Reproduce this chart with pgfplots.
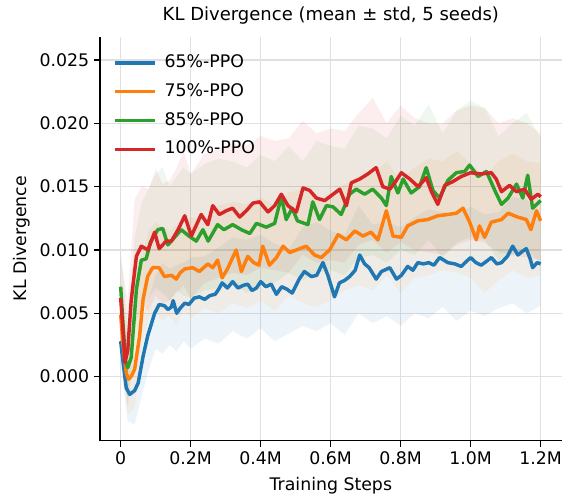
\documentclass[border=0pt]{standalone}
\usepackage{fontspec}
\setmainfont{DejaVu Sans}
\usepackage{pgfplots}
\usepackage{pgfplotstable}
\pgfplotsset{compat=1.18}
\usepgfplotslibrary{fillbetween}
\usetikzlibrary{calc}

\definecolor{tabblue}{HTML}{1F77B4}
\definecolor{taborange}{HTML}{FF7F0E}
\definecolor{tabgreen}{HTML}{2CA02C}
\definecolor{tabred}{HTML}{D62728}

% smoothed mean curves (x in millions of steps)
\pgfplotstableread{
x y
0.000 0.0028
0.007 0.0011
0.016 -0.0009
0.026 -0.0014
0.040 -0.0011
0.050 -0.0005
0.064 0.0016
0.077 0.0032
0.097 0.0050
0.110 0.0057
0.125 0.0056
0.135 0.0053
0.145 0.0055
0.150 0.0060
0.160 0.0050
0.170 0.0054
0.183 0.0058
0.195 0.0057
0.210 0.0062
0.225 0.0063
0.240 0.0061
0.255 0.0064
0.270 0.0065
0.280 0.0069
0.290 0.0074
0.305 0.0070
0.320 0.0075
0.335 0.0070
0.350 0.0072
0.363 0.0073
0.375 0.0068
0.388 0.0070
0.400 0.0075
0.415 0.0071
0.430 0.0073
0.445 0.0065
0.460 0.0071
0.475 0.0069
0.490 0.0066
0.510 0.0077
0.525 0.0083
0.545 0.0079
0.560 0.0080
0.578 0.0090
0.592 0.0080
0.611 0.0063
0.625 0.0074
0.640 0.0076
0.654 0.0079
0.670 0.0084
0.683 0.0096
0.697 0.0089
0.710 0.0086
0.730 0.0077
0.745 0.0083
0.769 0.0086
0.788 0.0077
0.802 0.0080
0.820 0.0087
0.835 0.0084
0.849 0.0090
0.865 0.0089
0.880 0.0090
0.895 0.0088
0.911 0.0094
0.935 0.0090
0.955 0.0089
0.973 0.0087
0.988 0.0091
1.000 0.0094
1.015 0.0090
1.030 0.0088
1.045 0.0091
1.059 0.0094
1.075 0.0089
1.088 0.0090
1.105 0.0095
1.120 0.0103
1.135 0.0096
1.148 0.0099
1.159 0.0101
1.170 0.0093
1.177 0.0086
1.190 0.0090
1.200 0.0089
}\blue

\pgfplotstableread{
x y
0.000 0.0049
0.007 0.0025
0.016 0.0003
0.022 -0.0002
0.030 0.0000
0.040 0.0006
0.054 0.0032
0.064 0.0061
0.077 0.0079
0.091 0.0086
0.110 0.0086
0.125 0.0079
0.145 0.0080
0.159 0.0077
0.170 0.0082
0.183 0.0085
0.206 0.0086
0.225 0.0083
0.249 0.0089
0.263 0.0086
0.277 0.0092
0.290 0.0078
0.305 0.0085
0.330 0.0100
0.345 0.0083
0.363 0.0095
0.380 0.0090
0.395 0.0088
0.406 0.0103
0.425 0.0088
0.445 0.0094
0.464 0.0103
0.483 0.0098
0.502 0.0100
0.530 0.0103
0.554 0.0096
0.573 0.0094
0.597 0.0100
0.621 0.0112
0.645 0.0108
0.669 0.0115
0.692 0.0111
0.715 0.0114
0.735 0.0108
0.759 0.0131
0.778 0.0111
0.802 0.0110
0.820 0.0119
0.849 0.0123
0.877 0.0124
0.906 0.0127
0.935 0.0128
0.959 0.0129
0.978 0.0133
0.997 0.0122
1.016 0.0108
1.025 0.0119
1.040 0.0110
1.059 0.0122
1.088 0.0124
1.107 0.0129
1.134 0.0126
1.159 0.0124
1.172 0.0116
1.188 0.0131
1.200 0.0123
}\orange

\pgfplotstableread{
x y
0.000 0.0071
0.007 0.0040
0.014 0.0012
0.020 0.0007
0.030 0.0015
0.045 0.0069
0.059 0.0092
0.073 0.0093
0.085 0.0106
0.106 0.0116
0.120 0.0117
0.135 0.0104
0.154 0.0110
0.173 0.0116
0.195 0.0111
0.216 0.0107
0.235 0.0116
0.250 0.0107
0.277 0.0120
0.295 0.0116
0.320 0.0120
0.345 0.0116
0.369 0.0113
0.388 0.0121
0.416 0.0118
0.440 0.0121
0.459 0.0142
0.473 0.0124
0.490 0.0133
0.505 0.0123
0.535 0.0120
0.549 0.0138
0.568 0.0124
0.588 0.0135
0.607 0.0134
0.630 0.0128
0.654 0.0144
0.673 0.0148
0.697 0.0144
0.720 0.0148
0.745 0.0141
0.759 0.0135
0.773 0.0158
0.792 0.0145
0.807 0.0156
0.830 0.0145
0.854 0.0150
0.873 0.0165
0.892 0.0147
0.911 0.0141
0.935 0.0155
0.959 0.0161
0.983 0.0162
0.997 0.0167
1.021 0.0158
1.045 0.0162
1.069 0.0147
1.088 0.0136
1.107 0.0141
1.131 0.0152
1.149 0.0141
1.163 0.0159
1.177 0.0133
1.200 0.0139
}\green

\pgfplotstableread{
x y
0.000 0.0062
0.007 0.0035
0.012 0.0011
0.020 0.0020
0.030 0.0060
0.045 0.0095
0.059 0.0103
0.078 0.0100
0.097 0.0114
0.110 0.0101
0.130 0.0107
0.145 0.0107
0.164 0.0116
0.183 0.0127
0.202 0.0111
0.230 0.0128
0.249 0.0120
0.263 0.0135
0.282 0.0128
0.302 0.0131
0.320 0.0133
0.340 0.0126
0.359 0.0131
0.378 0.0137
0.397 0.0138
0.421 0.0130
0.440 0.0135
0.459 0.0144
0.478 0.0135
0.502 0.0130
0.521 0.0149
0.540 0.0147
0.559 0.0141
0.583 0.0139
0.607 0.0144
0.626 0.0148
0.645 0.0135
0.659 0.0153
0.683 0.0156
0.706 0.0160
0.730 0.0165
0.749 0.0150
0.769 0.0148
0.783 0.0153
0.802 0.0161
0.826 0.0156
0.850 0.0150
0.873 0.0157
0.888 0.0146
0.906 0.0136
0.926 0.0151
0.949 0.0154
0.973 0.0158
1.000 0.0161
1.030 0.0160
1.059 0.0161
1.073 0.0156
1.088 0.0146
1.111 0.0151
1.131 0.0146
1.154 0.0148
1.173 0.0140
1.192 0.0144
1.200 0.0142
}\red

% std bands: lower / upper edge
\pgfplotstableread{
x lo hi
0.00 0.0010 0.0046
0.02 -0.0035 0.0012
0.04 -0.0038 0.0018
0.06 -0.0015 0.0045
0.08 0.0005 0.0062
0.10 0.0022 0.0080
0.12 0.0018 0.0090
0.14 0.0025 0.0085
0.16 0.0020 0.0088
0.18 0.0028 0.0090
0.20 0.0022 0.0094
0.24 0.0030 0.0095
0.28 0.0026 0.0102
0.32 0.0036 0.0110
0.36 0.0030 0.0108
0.40 0.0038 0.0112
0.44 0.0028 0.0105
0.48 0.0034 0.0100
0.52 0.0040 0.0118
0.56 0.0036 0.0122
0.60 0.0042 0.0115
0.64 0.0033 0.0112
0.68 0.0050 0.0135
0.72 0.0042 0.0120
0.76 0.0048 0.0122
0.80 0.0040 0.0118
0.84 0.0050 0.0126
0.88 0.0046 0.0132
0.92 0.0055 0.0130
0.96 0.0044 0.0128
1.00 0.0052 0.0134
1.04 0.0048 0.0128
1.08 0.0054 0.0130
1.12 0.0058 0.0142
1.16 0.0050 0.0140
1.20 0.0056 0.0124
}\blueband

\pgfplotstableread{
x lo hi
0.00 0.0020 0.0078
0.02 -0.0030 0.0030
0.04 -0.0025 0.0040
0.06 0.0025 0.0095
0.08 0.0045 0.0115
0.10 0.0050 0.0122
0.12 0.0044 0.0118
0.14 0.0048 0.0115
0.16 0.0040 0.0120
0.18 0.0052 0.0118
0.20 0.0046 0.0126
0.24 0.0054 0.0124
0.28 0.0050 0.0135
0.32 0.0058 0.0138
0.36 0.0054 0.0136
0.40 0.0060 0.0142
0.44 0.0052 0.0135
0.48 0.0064 0.0145
0.52 0.0058 0.0148
0.56 0.0055 0.0140
0.60 0.0060 0.0145
0.64 0.0068 0.0152
0.68 0.0072 0.0158
0.72 0.0068 0.0160
0.76 0.0080 0.0170
0.80 0.0066 0.0155
0.84 0.0078 0.0165
0.88 0.0080 0.0172
0.92 0.0084 0.0170
0.96 0.0082 0.0178
1.00 0.0078 0.0168
1.04 0.0066 0.0158
1.08 0.0076 0.0170
1.12 0.0084 0.0176
1.16 0.0078 0.0170
1.20 0.0080 0.0168
}\orangeband

\pgfplotstableread{
x lo hi
0.00 0.0040 0.0102
0.02 -0.0025 0.0040
0.04 0.0020 0.0110
0.06 0.0050 0.0138
0.08 0.0062 0.0148
0.10 0.0070 0.0160
0.12 0.0066 0.0165
0.14 0.0060 0.0150
0.16 0.0068 0.0158
0.18 0.0064 0.0165
0.20 0.0062 0.0160
0.24 0.0068 0.0168
0.28 0.0070 0.0172
0.32 0.0074 0.0170
0.36 0.0066 0.0165
0.40 0.0072 0.0175
0.44 0.0074 0.0170
0.48 0.0082 0.0182
0.52 0.0076 0.0170
0.56 0.0082 0.0186
0.60 0.0084 0.0182
0.64 0.0080 0.0180
0.68 0.0094 0.0198
0.72 0.0096 0.0196
0.76 0.0090 0.0188
0.80 0.0100 0.0206
0.84 0.0096 0.0198
0.88 0.0108 0.0215
0.92 0.0094 0.0192
0.96 0.0106 0.0210
1.00 0.0110 0.0218
1.04 0.0108 0.0212
1.08 0.0092 0.0190
1.12 0.0096 0.0200
1.16 0.0100 0.0208
1.20 0.0090 0.0188
}\greenband

\pgfplotstableread{
x lo hi
0.00 0.0030 0.0094
0.02 -0.0020 0.0060
0.04 0.0040 0.0140
0.06 0.0055 0.0150
0.08 0.0052 0.0148
0.10 0.0064 0.0164
0.12 0.0058 0.0152
0.14 0.0060 0.0155
0.16 0.0066 0.0165
0.18 0.0072 0.0178
0.20 0.0062 0.0160
0.24 0.0074 0.0176
0.28 0.0078 0.0180
0.32 0.0082 0.0184
0.36 0.0080 0.0182
0.40 0.0086 0.0190
0.44 0.0084 0.0186
0.48 0.0082 0.0188
0.52 0.0096 0.0202
0.56 0.0090 0.0192
0.60 0.0092 0.0196
0.64 0.0090 0.0194
0.68 0.0104 0.0208
0.72 0.0108 0.0220
0.76 0.0098 0.0200
0.80 0.0106 0.0214
0.84 0.0100 0.0204
0.88 0.0098 0.0200
0.92 0.0096 0.0200
0.96 0.0104 0.0210
1.00 0.0108 0.0214
1.04 0.0106 0.0212
1.08 0.0098 0.0200
1.12 0.0096 0.0204
1.16 0.0094 0.0200
1.20 0.0092 0.0192
}\redband

\begin{document}
\begin{tikzpicture}
\begin{axis}[
    scale only axis,
    width=346.3pt, height=303pt,
    xmin=-0.0591, xmax=1.26,
    ymin=-0.00505, ymax=0.02684,
    axis lines*=left,
    axis line style={line width=1pt},
    tick align=outside,
    major tick length=4.5pt,
    tick style={black, line width=1pt},
    xtick={0,0.2,0.4,0.6,0.8,1.0,1.2},
    xticklabels={0,0.2M,0.4M,0.6M,0.8M,1.0M,1.2M},
    ytick={0,0.005,0.010,0.015,0.020,0.025},
    scaled y ticks=false,
    yticklabel style={/pgf/number format/.cd, fixed, fixed zerofill, precision=3, assume math mode=true},
    grid=major,
    major grid style={black!12, line width=1pt},
    font=\fontsize{13}{15}\selectfont,
    tick label style={font=\fontsize{13}{15}\selectfont},
    title={KL Divergence (mean ± std, 5 seeds)},
    title style={font=\fontsize{13.5}{15}\selectfont},
    xlabel={Training Steps},
    xlabel style={yshift=-3pt},
    ylabel={KL Divergence},
    legend style={draw=none, fill=none, inner sep=0pt,
        at={(rel axis cs:0.028,0.962)}, anchor=north west,
        font=\fontsize{13}{15}\selectfont, row sep=5.6pt,
        nodes={text height=9.5pt, text depth=2.5pt, inner sep=2pt}},
    legend cell align=left,
    legend image code/.code={\draw[#1, line width=2.6pt] (0pt,0pt) -- (30pt,0pt); \path (34pt,0pt);},
    every axis plot/.append style={line join=round},
]
\path (rel axis cs:0,0) coordinate (axbl) (rel axis cs:1,1) coordinate (axtr);

\addplot[name path=bu, draw=none, forget plot] table[x=x, y=hi] {\blueband};
\addplot[name path=bl, draw=none, forget plot] table[x=x, y=lo] {\blueband};
\addplot[tabblue, fill opacity=0.08, forget plot] fill between[of=bu and bl];
\addplot[name path=ou, draw=none, forget plot] table[x=x, y=hi] {\orangeband};
\addplot[name path=ol, draw=none, forget plot] table[x=x, y=lo] {\orangeband};
\addplot[taborange, fill opacity=0.08, forget plot] fill between[of=ou and ol];
\addplot[name path=gu, draw=none, forget plot] table[x=x, y=hi] {\greenband};
\addplot[name path=gl, draw=none, forget plot] table[x=x, y=lo] {\greenband};
\addplot[tabgreen, fill opacity=0.08, forget plot] fill between[of=gu and gl];
\addplot[name path=ru, draw=none, forget plot] table[x=x, y=hi] {\redband};
\addplot[name path=rl, draw=none, forget plot] table[x=x, y=lo] {\redband};
\addplot[tabred, fill opacity=0.08, forget plot] fill between[of=ru and rl];

\addplot[tabblue, line width=2.6pt] table {\blue};
\addlegendentry{65\%-PPO}
\addplot[taborange, line width=2.6pt] table {\orange};
\addlegendentry{75\%-PPO}
\addplot[tabgreen, line width=2.6pt] table {\green};
\addlegendentry{85\%-PPO}
\addplot[tabred, line width=2.6pt] table {\red};
\addlegendentry{100\%-PPO}
\end{axis}
\pgfresetboundingbox
\useasboundingbox ($(axbl)+(-75pt,-46.7pt)$) rectangle ($(axtr)+(1pt,27.5pt)$);
\end{tikzpicture}
\end{document}
